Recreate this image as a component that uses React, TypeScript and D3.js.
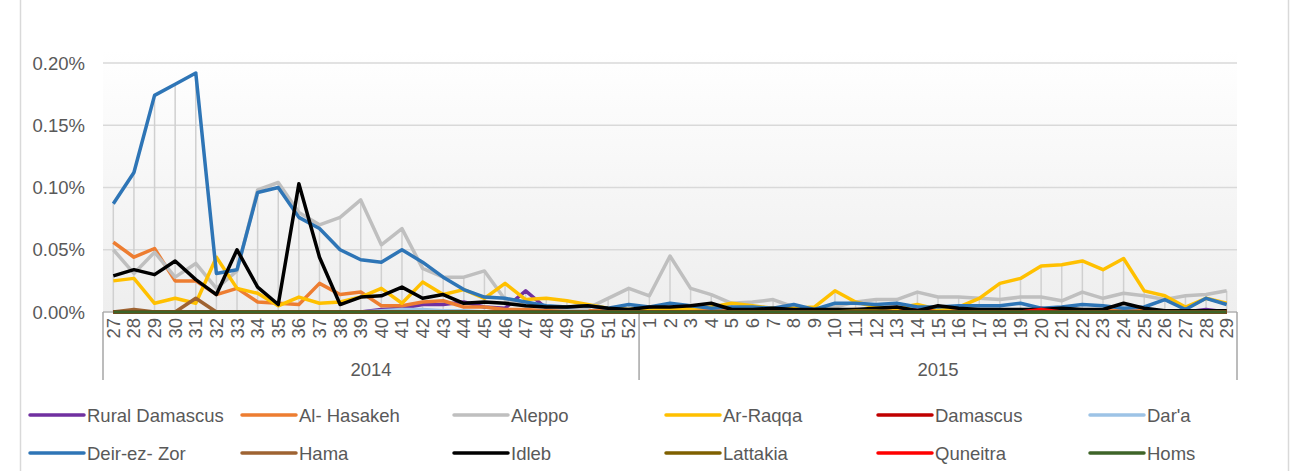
import React, { useEffect, useRef } from 'react';
import * as d3 from 'd3';

// week labels, 2014 wk 27 .. 2015 wk 29
const weeks2014 = ['27','28','29','30','31','32','33','34','35','36','37','38','39','40','41','42','43','44','45','46','47','48','49','50','51','52'];
const weeks2015 = ['1','2','3','4','5','6','7','8','9','10','11','12','13','14','15','16','17','18','19','20','21','22','23','24','25','26','27','28','29'];
const years = ['2014', '2015'];
const yTicks = [0, 0.05, 0.1, 0.15, 0.2];

// values in percent
const ruralDamascus = [0,0,0,0,0,0,0,0,0,0,0,0,0,0.002,0.003,0.006,0.006,0.008,0.004,0.003,0.017,0.003,0.001,0,0,0,0,0,0,0,0,0,0,0,0,0,0,0,0,0,0,0,0,0,0,0,0,0,0,0,0,0,0,0.002,0];
const alHasakeh = [0.056,0.044,0.051,0.025,0.025,0.014,0.019,0.008,0.007,0.006,0.023,0.014,0.016,0.005,0.005,0.008,0.009,0.004,0.004,0.002,0.002,0.001,0.001,0.001,0.001,0.001,0.001,0.001,0.001,0.001,0.002,0.001,0.001,0.001,0.001,0.001,0.002,0.001,0.001,0.001,0.001,0.001,0.001,0.001,0.001,0.001,0.001,0.001,0.001,0.001,0.001,0.001,0.001,0.001,0.001];
const aleppo = [0.050,0.031,0.048,0.028,0.039,0.019,0.033,0.098,0.104,0.080,0.070,0.076,0.090,0.054,0.067,0.035,0.028,0.028,0.033,0.010,0.005,0.004,0.003,0.003,0.011,0.019,0.013,0.045,0.019,0.014,0.007,0.008,0.010,0.004,0.002,0.004,0.008,0.010,0.010,0.016,0.012,0.012,0.011,0.010,0.012,0.012,0.009,0.016,0.011,0.015,0.013,0.010,0.013,0.014,0.017];
const arRaqqa = [0.025,0.027,0.007,0.011,0.007,0.044,0.019,0.015,0.005,0.012,0.007,0.008,0.012,0.019,0.007,0.024,0.014,0.018,0.011,0.023,0.010,0.011,0.009,0.006,0.003,0.002,0.003,0.003,0.003,0.004,0.007,0.005,0.003,0.003,0.004,0.017,0.008,0.004,0.003,0.006,0.002,0.004,0.011,0.023,0.027,0.037,0.038,0.041,0.034,0.043,0.017,0.013,0.004,0.011,0.007];
const damascus = [0,0,0,0,0,0,0,0,0,0,0,0,0,0,0,0,0,0,0,0,0,0,0,0,0,0,0,0,0,0,0,0,0,0,0,0,0,0,0,0.002,0,0,0,0,0,0.003,0,0,0,0,0,0,0,0,0];
const dara = [0,0,0,0,0,0,0,0,0,0,0,0,0,0.001,0.002,0.002,0.001,0.001,0,0,0,0,0,0,0,0,0,0,0,0,0,0,0,0,0,0,0,0,0,0,0,0,0,0,0,0,0,0,0,0,0,0,0,0,0];
const deirEzZor = [0.087,0.112,0.174,0.183,0.192,0.031,0.034,0.096,0.100,0.076,0.067,0.050,0.042,0.040,0.050,0.040,0.028,0.018,0.012,0.011,0.008,0.005,0.004,0.005,0.003,0.006,0.004,0.007,0.005,0.003,0.004,0.004,0.003,0.006,0.002,0.007,0.007,0.006,0.007,0.004,0.004,0.005,0.005,0.005,0.007,0.003,0.004,0.006,0.005,0.003,0.004,0.010,0.002,0.011,0.006];
const hama = [0,0.002,0,0,0.011,0,0,0,0,0,0,0,0,0,0,0,0,0,0,0,0,0,0,0,0,0,0,0,0,0,0,0,0,0,0,0.001,0.001,0.001,0,0,0,0,0,0,0,0,0,0,0,0,0,0,0,0,0];
const idleb = [0.029,0.034,0.030,0.041,0.026,0.014,0.050,0.020,0.006,0.103,0.044,0.006,0.012,0.013,0.020,0.011,0.014,0.007,0.008,0.007,0.005,0.004,0.004,0.005,0.003,0.002,0.004,0.004,0.005,0.007,0.002,0.002,0.003,0.002,0.002,0.002,0.002,0.003,0.004,0.001,0.005,0.003,0.002,0.002,0.002,0.002,0.003,0.002,0.002,0.007,0.003,0.001,0.001,0.001,0.001];
const lattakia = [0,0,0,0,0,0,0,0,0,0,0,0,0,0,0,0,0,0,0,0,0,0,0,0,0,0,0,0,0,0,0,0,0,0,0,0,0.001,0.001,0,0,0,0,0,0,0,0,0,0,0,0,0,0,0,0,0];
const quneitra = [0,0,0,0,0,0,0,0,0,0,0,0,0,0,0,0,0,0,0,0,0,0,0,0,0,0,0,0,0,0,0,0,0,0,0,0,0,0,0,0,0,0,0,0,0,0.002,0,0,0,0,0,0,0,0,0];
const homs = [0,0,0,0,0,0,0,0,0,0,0,0,0,0,0,0,0,0,0,0,0,0,0,0,0,0,0,0,0,0,0,0,0,0,0,0,0,0,0,0,0,0,0,0,0,0,0,0,0,0,0,0,0,0,0];

const seriesNames = ['Rural Damascus','Al- Hasakeh','Aleppo','Ar-Raqqa','Damascus',"Dar'a",'Deir-ez- Zor','Hama','Idleb','Lattakia','Quneitra','Homs'];
const seriesValues = [ruralDamascus, alHasakeh, aleppo, arRaqqa, damascus, dara, deirEzZor, hama, idleb, lattakia, quneitra, homs];
const seriesColors = ['#7030a0','#ed7d31','#bfbfbf','#ffc000','#c00000','#9dc3e6','#2e75b6','#9e6332','#000000','#7f6000','#ff0000','#3e6428'];

const FONT = 'Liberation Sans, Arial, sans-serif';
const TEXT = '#595959';
const FS = '18.5px';

const App = () => {
  const svgRef = useRef<SVGSVGElement>(null);

  useEffect(() => {
    const width = 1303;
    const height = 471;
    const plot = { left: 103, right: 1237, top: 50, bottom: 312 };

    const svg = d3.select(svgRef.current);
    svg.selectAll('*').remove();

    svg.append('rect').attr('width', width).attr('height', height).attr('fill', 'white');

    // outer chart border (left / right edges)
    svg.append('line').attr('x1', 20.5).attr('x2', 20.5).attr('y1', 0).attr('y2', height).attr('stroke', '#d9d9d9').attr('stroke-width', 1.5);
    svg.append('line').attr('x1', 1288.5).attr('x2', 1288.5).attr('y1', 0).attr('y2', height).attr('stroke', '#d9d9d9').attr('stroke-width', 1.5);

    const cats = [...weeks2014.map(w => '2014-' + w), ...weeks2015.map(w => '2015-' + w)];
    const labels = [...weeks2014, ...weeks2015];

    const x = d3.scaleBand().domain(cats).range([plot.left, plot.right]);
    const y = d3.scaleLinear().domain([0, 0.2]).range([plot.bottom, 63]);
    const cx = (c: string) => (x(c) as number) + x.bandwidth() / 2;

    // plot background gradient
    const grad = svg.append('defs').append('linearGradient')
      .attr('id', 'plotGrad').attr('x1', 0).attr('x2', 0).attr('y1', 0).attr('y2', 1);
    grad.append('stop').attr('offset', '0%').attr('stop-color', '#ffffff');
    grad.append('stop').attr('offset', '100%').attr('stop-color', '#eeeeee');
    svg.append('rect')
      .attr('x', plot.left).attr('y', plot.top)
      .attr('width', plot.right - plot.left).attr('height', plot.bottom - plot.top)
      .attr('fill', 'url(#plotGrad)');

    // gridlines
    svg.append('g').selectAll('line').data(yTicks).enter().append('line')
      .attr('x1', plot.left).attr('x2', plot.right)
      .attr('y1', d => y(d)).attr('y2', d => y(d))
      .attr('stroke', '#d9d9d9').attr('stroke-width', 1.5);

    // y labels
    svg.append('g').selectAll('text').data(yTicks).enter().append('text')
      .attr('x', 85).attr('y', d => y(d))
      .attr('text-anchor', 'end').attr('dominant-baseline', 'central')
      .attr('font-family', FONT).attr('font-size', FS).attr('fill', TEXT)
      .text(d => d3.format('.2f')(d) + '%');

    // drop lines from highest point to axis
    svg.append('g').selectAll('line').data(cats).enter().append('line')
      .attr('x1', d => cx(d)).attr('x2', d => cx(d))
      .attr('y1', (d, i) => y(d3.max(seriesValues, s => s[i]) as number))
      .attr('y2', plot.bottom)
      .attr('stroke', '#d0d0d0').attr('stroke-width', 1.5);

    // category axis
    const axisColor = '#a6a6a6';
    svg.append('line').attr('x1', plot.left).attr('x2', plot.right).attr('y1', plot.bottom).attr('y2', plot.bottom)
      .attr('stroke', axisColor);
    const splitX = x('2015-1') as number;
    [plot.left, splitX, plot.right].forEach(px => {
      svg.append('line').attr('x1', px).attr('x2', px).attr('y1', plot.bottom).attr('y2', 380)
        .attr('stroke', axisColor).attr('stroke-width', 1.5);
    });

    svg.append('g').selectAll('text').data(cats).enter().append('text')
      .attr('transform', d => `translate(${cx(d)},318) rotate(-90)`)
      .attr('text-anchor', 'end').attr('dominant-baseline', 'central')
      .attr('font-family', FONT).attr('font-size', FS).attr('fill', TEXT)
      .text((d, i) => labels[i]);

    svg.append('g').selectAll('text').data(years).enter().append('text')
      .attr('x', (d, i) => i === 0 ? (plot.left + splitX) / 2 : (splitX + plot.right) / 2)
      .attr('y', 376)
      .attr('text-anchor', 'middle')
      .attr('font-family', FONT).attr('font-size', FS).attr('fill', TEXT)
      .text(d => d);

    // series lines
    const line = d3.line<number>()
      .x((d, i) => cx(cats[i]))
      .y(d => y(d));

    seriesValues.forEach((vals, k) => {
      svg.append('path')
        .datum(vals)
        .attr('fill', 'none')
        .attr('stroke', seriesColors[k])
        .attr('stroke-width', 3.5)
        .attr('stroke-linejoin', 'round')
        .attr('d', line);
    });

    // legend
    const legend = svg.append('g');
    seriesNames.forEach((name, k) => {
      const col = k % 6;
      const row = Math.floor(k / 6);
      const lx = 30 + col * 212;
      const ly = 415 + row * 38;
      legend.append('line').attr('x1', lx).attr('x2', lx + 54).attr('y1', ly).attr('y2', ly)
        .attr('stroke', seriesColors[k]).attr('stroke-width', 3.5).attr('stroke-linecap', 'round');
      legend.append('text').attr('x', lx + 57).attr('y', ly)
        .attr('dominant-baseline', 'central')
        .attr('font-family', FONT).attr('font-size', FS).attr('fill', TEXT)
        .text(name);
    });
  }, []);

  return (
    <div style={{ position: 'absolute', left: 0, top: 0 }}>
      <svg ref={svgRef} width={1303} height={471} style={{ display: 'block' }} />
    </div>
  );
};

export default App;
